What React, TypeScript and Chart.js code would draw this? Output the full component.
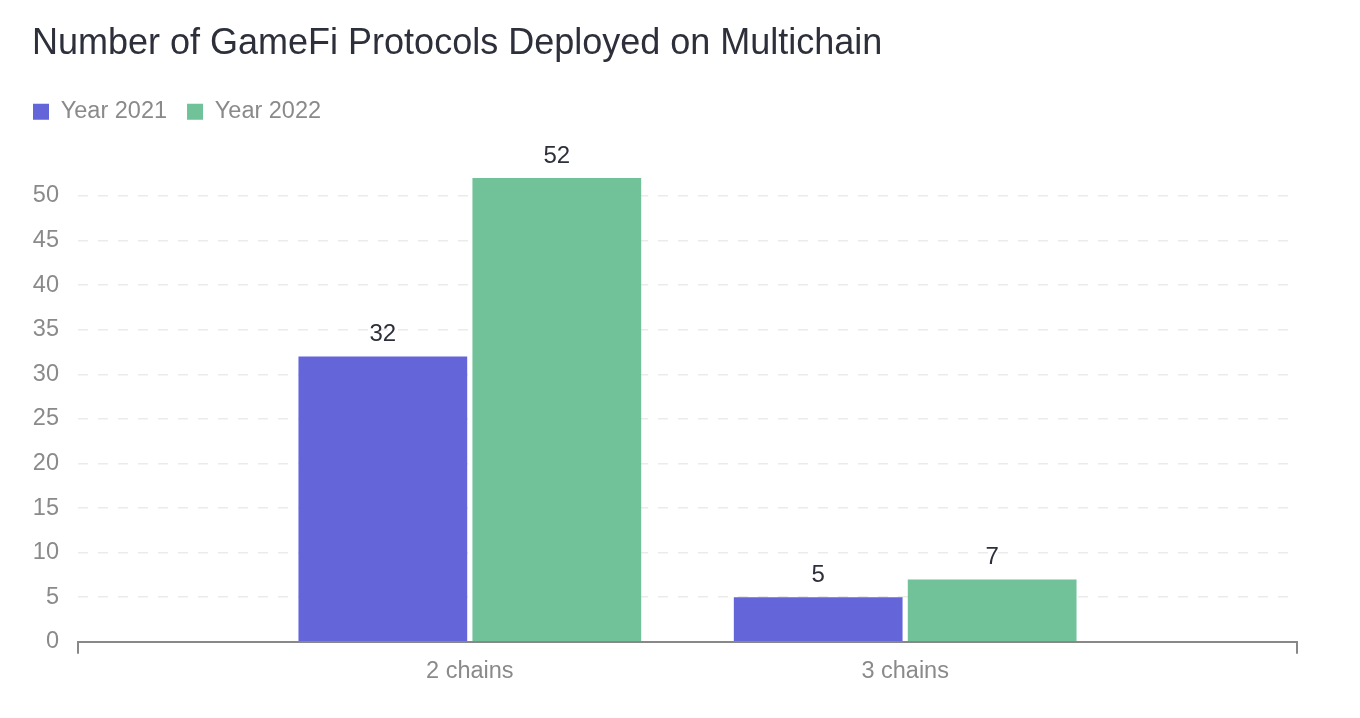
import { useEffect, useRef } from "react";
import Chart from "chart.js/auto";

const categories = ["2 chains", "3 chains"];
const categoryPositions = [1, 2];
const seriesNames = ["Year 2021", "Year 2022"];
const year2021 = [32, 5];
const year2022 = [52, 7];
const seriesColors = ["#6565da", "#71c199"];
const yTicks = [0, 5, 10, 15, 20, 25, 30, 35, 40, 45, 50];

const FONT = "'Liberation Sans', Arial, sans-serif";
const X_MIN = 0.1;
const X_MAX = 2.9;

const valueLabels = {
  id: "valueLabels",
  afterDatasetsDraw(chart: Chart) {
    const ctx = chart.ctx;
    ctx.save();
    ctx.font = `24px ${FONT}`;
    ctx.fillStyle = "#2d2f3a";
    ctx.textAlign = "center";
    ctx.textBaseline = "alphabetic";
    chart.data.datasets.forEach((ds, i) => {
      const meta = chart.getDatasetMeta(i);
      meta.data.forEach((bar: any, j) => {
        const pt = ds.data[j] as any;
        ctx.fillText(String(pt.y), bar.x, bar.y - 15);
      });
    });
    ctx.restore();
  },
};

export default function App() {
  const canvasRef = useRef<HTMLCanvasElement>(null);

  useEffect(() => {
    if (!canvasRef.current) return;
    const series = [year2021, year2022];
    const chart = new Chart(canvasRef.current, {
      type: "bar",
      data: {
        datasets: series.map((vals, i) => ({
          label: seriesNames[i],
          data: vals.map((v, j) => ({ x: categoryPositions[j], y: v })),
          backgroundColor: seriesColors[i],
          borderWidth: 0,
          categoryPercentage: 0.888,
          barPercentage: 0.97,
        })),
      },
      options: {
        animation: false,
        responsive: true,
        maintainAspectRatio: false,
        layout: { padding: { left: 13, right: 63, top: 80, bottom: 28 } },
        plugins: {
          title: { display: false },
          tooltip: { enabled: false },
          legend: {
            position: "top",
            align: "start",
            labels: {
              boxWidth: 16,
              boxHeight: 16,
              padding: 20,
              color: "#8a8a8a",
              font: { family: FONT, size: 23.5 },
            },
          },
        },
        scales: {
          x: {
            type: "linear",
            offset: false,
            min: X_MIN,
            max: X_MAX,
            afterBuildTicks: (scale: any) => {
              scale.ticks = [X_MIN, ...categoryPositions, X_MAX].map((v) => ({ value: v }));
            },
            ticks: {
              autoSkip: false,
              maxRotation: 0,
              padding: 4,
              color: "#8a8a8a",
              font: { family: FONT, size: 23.5 },
              callback: (v: any) => {
                const idx = categoryPositions.indexOf(Number(v));
                return idx >= 0 ? categories[idx] : "";
              },
            },
            grid: {
              offset: false,
              drawOnChartArea: false,
              tickLength: 12,
              lineWidth: 2,
              color: (c: any) =>
                c.index === 0 || c.index === categoryPositions.length + 1 ? "#888888" : "rgba(0,0,0,0)",
            },
            border: { display: true, color: "#888888", width: 2 },
          },
          y: {
            min: 0,
            max: 57,
            afterBuildTicks: (scale: any) => {
              scale.ticks = yTicks.map((v) => ({ value: v }));
            },
            afterFit: (scale: any) => {
              scale.width = 65;
            },
            ticks: {
              padding: 19,
              color: "#8a8a8a",
              font: { family: FONT, size: 23.5 },
            },
            grid: {
              drawTicks: false,
              color: (c: any) => (c.index === 0 ? "rgba(0,0,0,0)" : "#ebebeb"),
              lineWidth: 1.5,
            },
            border: { display: false, dash: [10, 10] },
          },
        },
      },
      plugins: [valueLabels],
    });
    return () => chart.destroy();
  }, []);

  return (
    <div style={{ position: "absolute", left: 0, top: 0, width: 1360, height: 718, background: "#fff" }}>
      <div
        style={{
          position: "absolute",
          left: 32,
          top: 20,
          fontFamily: FONT,
          fontSize: 36,
          color: "#2d2f3a",
          lineHeight: "44px",
          whiteSpace: "nowrap",
        }}
      >
        Number of GameFi Protocols Deployed on Multichain
      </div>
      <canvas ref={canvasRef} />
    </div>
  );
}
